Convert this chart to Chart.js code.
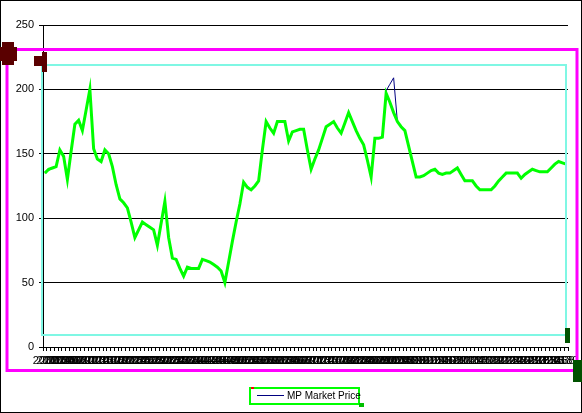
<!DOCTYPE html>
<html>
<head>
<meta charset="utf-8">
<script src="https://cdn.jsdelivr.net/npm/chart.js@4.4.1/dist/chart.umd.min.js"></script>
<style>
  html, body { margin: 0; padding: 0; background: #fff; }
  canvas { display: block; }
</style>
</head>
<body>
<canvas id="priceChart" width="582" height="413"></canvas>
<script>
// values, one per category
const marketPrice = [
  135, 137, 139, 140, 153, 148, 129, 152, 173, 176,
  168, 184, 200, 154, 146, 144, 153, 150, 140, 126,
  115, 112, 108, 97, 85, 91, 97, 95, 93, 91,
  79, 96, 113, 85, 69, 68, 61, 55, 62, 61,
  61, 61, 68, 67, 66, 64, 62, 59, 50, 66,
  82, 97, 111, 128, 124, 122, 125, 129, 153, 175,
  170, 166, 175, 175, 175, 160, 167, 168, 169, 169,
  153, 138, 146, 153, 162, 171, 173, 175, 170, 166,
  174, 182, 175, 168, 162, 157, 145, 132, 162, 162,
  163, 199, 204, 209, 175, 171, 168, 156, 144, 132,
  132, 133, 135, 137, 138, 135, 134, 135, 135, 137,
  139, 134, 129, 129, 129, 125, 122, 122, 122, 122,
  125, 129, 132, 135, 135, 135, 135, 131, 134, 136,
  138, 137, 136, 136, 136, 139, 142, 144, 143, 142
];
const highlighted = [
  135, 138, 139, 140, 153, 148, 130, 152, 173, 176,
  168, 184, 200, 154, 146, 144, 153, 150, 140, 126,
  115, 112, 108, 97, 85, 91, 97, 95, 93, 91,
  79, 96, 113, 85, 69, 68, 61, 55, 62, 61,
  61, 61, 68, 67, 66, 64, 62, 59, 50, 66,
  82, 97, 111, 128, 124, 122, 125, 129, 153, 175,
  170, 166, 175, 175, 175, 160, 167, 168, 169, 169,
  153, 138, 146, 153, 162, 171, 173, 175, 170, 166,
  174, 182, 175, 168, 162, 157, 145, 132, 162, 162,
  163, 197, 190, 182, 175, 171, 168, 156, 144, 132,
  132, 133, 135, 137, 138, 135, 134, 135, 135, 137,
  139, 134, 129, 129, 129, 125, 122, 122, 122, 122,
  125, 129, 132, 135, 135, 135, 135, 131, 134, 136,
  138, 137, 136, 136, 136, 139, 142, 144, 143, 142
];
const periods = marketPrice.map((v, i) => String(2000 + i));
const yTicks = [0, 50, 100, 150, 200, 250];

const FONT = '"Liberation Sans", Arial, sans-serif';

// selection frames, handles and the legend box drawn over the chart
const overlays = {
  id: 'overlays',
  afterDraw(chart) {
    const ctx = chart.ctx;
    ctx.save();
    ctx.strokeStyle = '#000';
    ctx.lineWidth = 1;
    ctx.strokeRect(0.5, 0.5, 581, 412);

    ctx.strokeStyle = '#7ff7e4';
    ctx.lineWidth = 2;
    ctx.strokeRect(42, 65, 524, 270);

    ctx.strokeStyle = '#ff00ff';
    ctx.lineWidth = 3;
    ctx.strokeRect(7, 49.5, 570, 321);

    ctx.fillStyle = '#5a0000';
    ctx.fillRect(2, 42, 12, 23);
    ctx.fillRect(0, 47, 17, 14);
    ctx.fillRect(34, 56, 13, 10);
    ctx.fillRect(42, 52, 5, 20);

    ctx.fillStyle = '#005200';
    ctx.fillRect(565, 328, 5, 15);
    ctx.fillRect(573, 360, 9, 22);

    // legend
    ctx.strokeStyle = '#00ff00';
    ctx.lineWidth = 2;
    ctx.strokeRect(250, 388, 109, 16);
    ctx.fillStyle = '#ff0000';
    ctx.fillRect(251, 387, 3, 2);
    ctx.fillStyle = '#00c000';
    ctx.fillRect(359, 403, 5, 4);
    ctx.strokeStyle = '#000080';
    ctx.lineWidth = 1;
    ctx.beginPath();
    ctx.moveTo(257, 395.5);
    ctx.lineTo(284, 395.5);
    ctx.stroke();
    ctx.fillStyle = '#000';
    ctx.font = '10px ' + FONT;
    ctx.textBaseline = 'middle';
    ctx.fillText('MP Market Price', 287, 396);
    ctx.restore();
  }
};

new Chart(document.getElementById('priceChart'), {
  type: 'line',
  data: {
    labels: periods,
    datasets: [
      {
        label: 'MP Market Price',
        data: marketPrice,
        borderColor: '#000080',
        borderWidth: 1,
        pointRadius: 0,
        tension: 0,
        order: 1
      },
      {
        label: 'selected',
        data: highlighted,
        borderColor: '#00ff00',
        borderWidth: 3,
        pointRadius: 0,
        tension: 0,
        order: 0
      }
    ]
  },
  options: {
    responsive: false,
    animation: false,
    devicePixelRatio: 1,
    layout: { padding: { left: 0, right: 14, top: 25, bottom: 0 } },
    plugins: {
      legend: { display: false },
      tooltip: { enabled: false }
    },
    scales: {
      x: {
        offset: true,
        grid: { display: true, drawOnChartArea: false, drawTicks: true, tickLength: 4, color: '#000', offset: true },
        border: { display: true, color: '#000', width: 1 },
        ticks: {
          autoSkip: false, maxRotation: 0, minRotation: 0, padding: 3,
          color: '#000', font: { family: FONT, size: 11 }
        },
        afterFit(scale) {
          scale.height = 66;
          scale.paddingLeft = 0;
          scale.paddingRight = 0;
        }
      },
      y: {
        min: 0,
        max: 250,
        afterBuildTicks(scale) {
          scale.ticks = yTicks.map(v => ({ value: v }));
        },
        grid: { color: '#000', lineWidth: 1, tickLength: 4, drawTicks: true },
        border: { display: true, color: '#000', width: 1 },
        ticks: { padding: 5, color: '#000', font: { family: FONT, size: 11 } },
        afterFit(scale) {
          scale.width = 43;
          scale.paddingTop = 0;
          scale.paddingBottom = 0;
        }
      }
    }
  },
  plugins: [overlays]
});
</script>
</body>
</html>
